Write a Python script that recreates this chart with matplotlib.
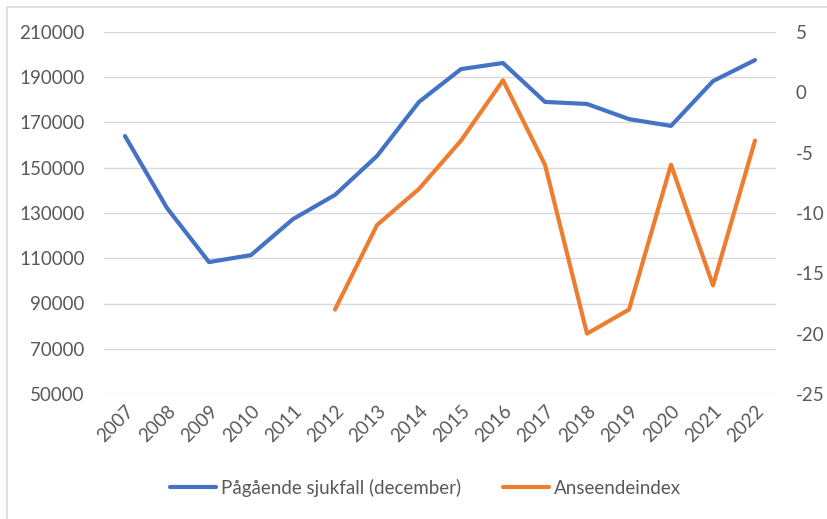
import matplotlib.pyplot as plt
from matplotlib.patches import Rectangle

years = [str(y) for y in range(2007, 2023)]
sjukfall = [164000, 132200, 108300, 111400, 127300, 138000, 155200, 179100,
            193600, 196300, 179100, 178200, 171500, 168500, 188300, 197600]
anseende_years = years[5:]
anseende = [-18, -11, -8, -4, 1, -6, -20, -18, -6, -16, -4]

plt.rcParams['font.family'] = ['Lato', 'DejaVu Sans']
plt.rcParams['axes.unicode_minus'] = False
tick_color = '#595959'

fig = plt.figure(figsize=(8.28, 5.19), dpi=100)
ax = fig.add_axes([104 / 828, 1 - 394 / 519, (776 - 104) / 828, (394 - 32) / 519])
ax2 = ax.twinx()

x_all = list(range(len(years)))
x_ans = [years.index(y) for y in anseende_years]

l1, = ax.plot(x_all, sjukfall, color='#4472C4', lw=3, solid_capstyle='round',
              solid_joinstyle='round', label='Pågående sjukfall (december)')
l2, = ax2.plot(x_ans, anseende, color='#ED7D31', lw=3, solid_capstyle='round',
               solid_joinstyle='round', label='Anseendeindex')

ax.set_xlim(-0.5, len(years) - 0.5)
ax.set_ylim(50000, 210000)
ax.set_yticks(range(50000, 210001, 20000))
ax2.set_ylim(-25, 5)
ax2.set_yticks(range(-25, 6, 5))

ax.set_xticks(x_all)
ax.set_xticklabels(years, rotation=45, ha='right', rotation_mode='anchor')
ax.grid(axis='y', color='#D9D9D9', lw=1)
ax.set_axisbelow(True)

for a in (ax, ax2):
    for s in a.spines.values():
        s.set_visible(False)
    a.tick_params(length=0, labelsize=13.5, colors=tick_color)
ax.tick_params(axis='y', pad=14)
ax2.tick_params(axis='y', pad=14)
ax.tick_params(axis='x', pad=6)

fig.legend(handles=[l1, l2], loc='center', bbox_to_anchor=(0.514, 1 - 488 / 519),
           ncol=2, frameon=False, fontsize=13.5, labelcolor=tick_color,
           handlelength=2.45, handletextpad=0.3, columnspacing=2.2)

fig.patches.append(Rectangle((7 / 828, -0.1), 1.2, 1 - 7 / 519 + 0.1,
                             transform=fig.transFigure, fill=False,
                             edgecolor='#D9D9D9', lw=1.2))

fig.savefig('out.png', dpi=100)
